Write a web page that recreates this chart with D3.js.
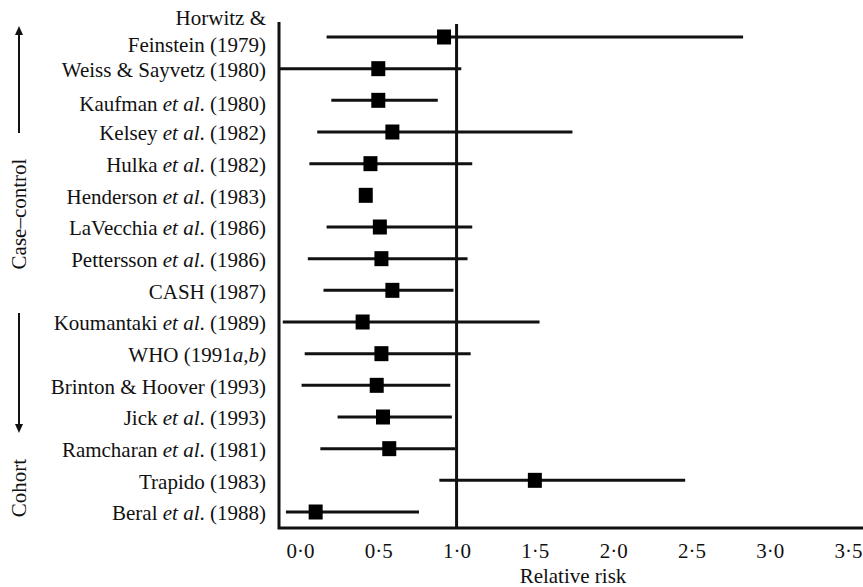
<!DOCTYPE html>
<html>
<head>
<meta charset="utf-8">
<script src="https://cdn.jsdelivr.net/npm/d3@7"></script>
<style>
body { margin: 0; background: #fff; }
text { font-family: "Liberation Serif", "DejaVu Serif", serif; fill: #111; }
</style>
</head>
<body>
<div id="chartArea"></div>
<script>
// studies top to bottom
const studies = [
"Horwitz & Feinstein (1979)", "Weiss & Sayvetz (1980)", "Kaufman et al. (1980)",
"Kelsey et al. (1982)", "Hulka et al. (1982)", "Henderson et al. (1983)",
"LaVecchia et al. (1986)", "Pettersson et al. (1986)", "CASH (1987)",
"Koumantaki et al. (1989)", "WHO (1991a,b)", "Brinton & Hoover (1993)",
"Jick et al. (1993)", "Ramcharan et al. (1981)", "Trapido (1983)", "Beral et al. (1988)"
];
const rr = [0.92, 0.50, 0.50, 0.59, 0.45, 0.42, 0.51, 0.52, 0.59, 0.40, 0.52, 0.49, 0.53, 0.57, 1.50, 0.10];
const lower = [0.17, -0.13, 0.20, 0.11, 0.06, 0.42, 0.17, 0.05, 0.15, -0.11, 0.03, 0.01, 0.24, 0.13, 0.89, -0.09];
const upper = [2.83, 1.03, 0.88, 1.74, 1.10, 0.42, 1.10, 1.07, 0.98, 1.53, 1.09, 0.96, 0.97, 0.99, 2.46, 0.76];
const xTicks = [0, 0.5, 1, 1.5, 2, 2.5, 3, 3.5];

const W = 863, H = 587;
const plotLeft = 279, plotBottom = 528;

const svg = d3.select("#chartArea").append("svg")
.attr("width", W).attr("height", H);

const x = d3.scaleLinear().domain([0, 3.5]).range([300, 848]);
const y = d3.scalePoint().domain(studies).range([37, 512]);

svg.append("defs").append("clipPath").attr("id", "clip")
.append("rect").attr("x", plotLeft).attr("y", 0).attr("width", W - plotLeft).attr("height", plotBottom);

const data = studies.map((s, i) => ({ s, rr: rr[i], lo: lower[i], hi: upper[i] }));

const plot = svg.append("g").attr("clip-path", "url(#clip)");

// CI lines
plot.selectAll("line.ci")
.data(data.filter(d => d.hi > d.lo))
.enter().append("line")
.attr("class", "ci")
.attr("x1", d => x(d.lo)).attr("x2", d => x(d.hi))
.attr("y1", d => y(d.s)).attr("y2", d => y(d.s))
.attr("stroke", "#111").attr("stroke-width", 3);

// reference line at RR = 1
svg.append("line")
.attr("x1", x(1)).attr("x2", x(1))
.attr("y1", 24).attr("y2", plotBottom)
.attr("stroke", "#111").attr("stroke-width", 3);

// point estimates
plot.selectAll("rect.pt")
.data(data)
.enter().append("rect")
.attr("x", d => x(d.rr) - 7).attr("y", d => y(d.s) - 7.5)
.attr("width", 14).attr("height", 15)
.attr("fill", "#000");

// left + bottom frame
svg.append("path")
.attr("d", `M${plotLeft},22V${plotBottom}H${W}`)
.attr("fill", "none").attr("stroke", "#111").attr("stroke-width", 3);

// x axis
const xAxis = svg.append("g")
.attr("transform", `translate(0,${plotBottom})`)
.call(d3.axisBottom(x).tickValues(xTicks).tickSize(0).tickPadding(15)
.tickFormat(d => d3.format(".1f")(d).replace(".", "\u00b7")));
xAxis.select(".domain").remove();
xAxis.selectAll("text").style("font-size", "21px").style("font-family", "Liberation Serif, serif");

svg.append("text")
.attr("x", 573).attr("y", 583)
.attr("text-anchor", "middle")
.style("font-size", "21px")
.text("Relative risk");

// study labels with italic parts
function addLabel(g, str) {
const parts = str.split(/(et al|a,b\))/);
parts.forEach(p => {
if (!p) return;
const t = g.append("tspan").text(p);
if (p === "et al" || p === "a,b)") t.style("font-style", "italic");
});
}

const labels = svg.append("g").style("font-size", "21px");
data.forEach((d, i) => {
if (i === 0) {
labels.append("text").attr("x", 266).attr("y", 25).attr("text-anchor", "end").text("Horwitz &");
labels.append("text").attr("x", 266).attr("y", 52).attr("text-anchor", "end").text("Feinstein (1979)");
return;
}
const t = labels.append("text")
.attr("x", 266).attr("y", y(d.s) + (i === 2 ? 3 : 1))
.attr("dy", "0.35em")
.attr("text-anchor", "end");
addLabel(t, d.s);
});

// group labels and arrows
const side = svg.append("g");
side.append("text")
.attr("transform", "translate(26,214) rotate(-90)")
.attr("text-anchor", "middle")
.style("font-size", "21px")
.text("Case\u2013control");
side.append("text")
.attr("transform", "translate(26,488) rotate(-90)")
.attr("text-anchor", "middle")
.style("font-size", "21px")
.text("Cohort");

side.append("line").attr("x1", 19).attr("x2", 19).attr("y1", 133).attr("y2", 33)
.attr("stroke", "#111").attr("stroke-width", 2);
side.append("path").attr("d", "M15,35L19,26L23,35Z").attr("fill", "#111");
side.append("line").attr("x1", 19).attr("x2", 19).attr("y1", 313).attr("y2", 426)
.attr("stroke", "#111").attr("stroke-width", 2);
side.append("path").attr("d", "M15,424L19,433L23,424Z").attr("fill", "#111");
</script>
</body>
</html>
